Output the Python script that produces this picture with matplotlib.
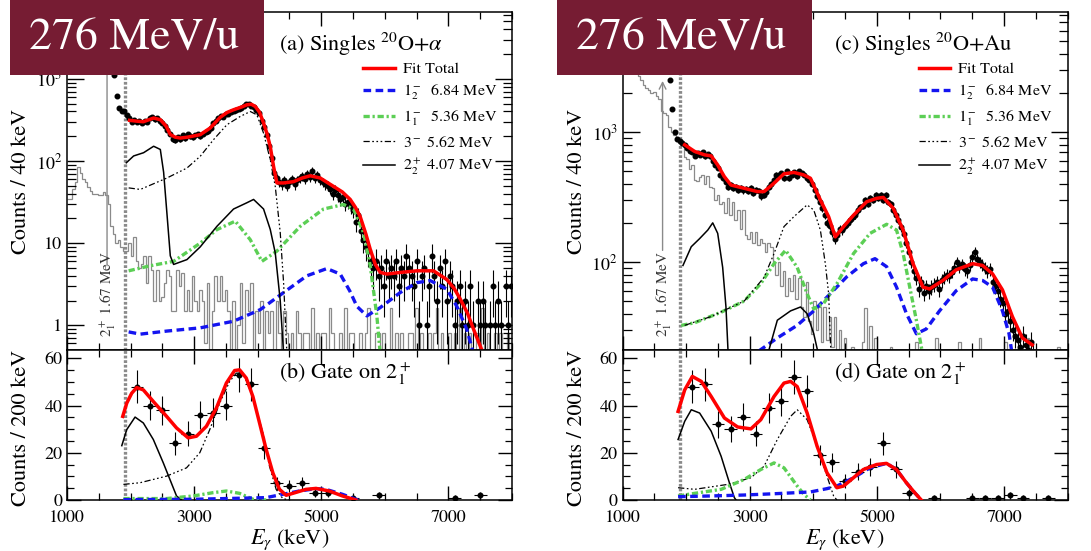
import numpy as np
import matplotlib
matplotlib.use("Agg")
import matplotlib.pyplot as plt
from matplotlib.patches import Rectangle
from matplotlib.ticker import FixedLocator, MultipleLocator, LogLocator, FuncFormatter, NullFormatter

plt.rcParams["font.family"] = ["STIXGeneral", "DejaVu Serif"]
plt.rcParams["mathtext.fontset"] = "stix"
plt.rcParams["lines.scale_dashes"] = False
plt.rcParams["axes.linewidth"] = 1.1

# ---------------- singles spectra, 40 keV bins ----------------
bin_w = 40
data_start = 1740

alpha_counts = [
    1100, 610, 445, 400, 410, 360, 330, 300, 315, 295, 305, 290, 310, 300, 330, 345,
    320, 335, 305, 290, 265, 240, 215, 185, 180, 195, 185, 205, 190, 210, 200, 195,
    205, 210, 200, 215, 225, 230, 250, 290, 310, 330, 350, 340, 370, 375, 390, 400,
    420, 430, 445, 470, 500, 490, 470, 455, 420, 380, 310, 260, 205, 150, 110, 72,
    62, 55, 52, 58, 50, 55, 60, 52, 58, 62, 65, 60, 70, 64, 75, 62, 68, 58, 55, 52,
    50, 46, 40, 44, 38, 34, 36, 30, 32, 28, 25, 18, 22, 14, 11, 9, 8, 6, 5, 6, 4, 5,
    3, 6, 4, 5, 4, 6, 3, 5, 4, 7, 5, 4, 3, 6, 1, 4, 5, 1, 3, 7, 4, 2, 5, 3, 6, 2, 4,
    3, 1, 2, 3, 1, 2, 1, 3, 1, 0, 2, 1, 2, 1, 0, 1, 3, 1, 2, 1, 0, 3, 1, 3,
]

au_counts = [
    2500, 1500, 1000, 880, 860, 820, 800, 760, 720, 700, 660, 690, 670, 700, 650, 680,
    650, 600, 560, 530, 470, 440, 410, 380, 390, 370, 380, 360, 370, 355, 365, 350,
    370, 340, 360, 350, 320, 330, 345, 380, 400, 430, 470, 470, 480, 440, 500, 440,
    470, 490, 460, 500, 480, 470, 440, 430, 400, 360, 320, 290, 260, 230, 200, 190,
    170, 150, 160, 180, 175, 190, 200, 210, 220, 230, 250, 265, 270, 300, 280, 310,
    300, 330, 310, 325, 300, 330, 290, 280, 250, 230, 210, 185, 165, 140, 120, 100,
    85, 75, 62, 70, 58, 65, 60, 64, 67, 70, 62, 72, 76, 80, 78, 84, 90, 100, 92, 96,
    88, 85, 95, 110, 120, 105, 100, 95, 90, 85, 88, 70, 65, 60, 52, 48, 40, 42, 35,
    30, 27, 25, 22, 27, 23, 21, 24, 20,
]

# gray random-coincidence spectra, 40 keV bins from 1000 keV
gray_start = 1000
alpha_gray = [
    34, 34, 45, 55, 85, 72, 60, 55, 48, 43, 40, 40, 39, 39, 42, 38, 30, 16, 13, 10,
    11, 9, 8, 8, 10, 7, 12, 6, 5, 5.5, 7, 3.3, 7, 4.7, 2, 4.7, 2, 2.2, 3.3, 4.7, 4,
    1.5, 1.5, 4.7, 3, 4.3, 1.5, 2.7, 1.5, 4, 2, 1.5, 2.7, 2, 0.6, 3.3, 0, 1.5, 4, 2,
    4, 2, 2.7, 1.5, 0, 2, 0, 1, 3.3, 0.6, 2.7, 1.5, 3.3, 0, 1.5, 0.8, 2, 0, 1.5, 0.8,
    1.5, 0, 2, 0.8, 0, 1.5, 0.8, 0, 0.8, 0, 1.5, 0.8,
    0, 0.8, 0.8, 0, 1.6, 0, 0.8, 0, 0.8, 0.8, 0, 1.6, 0.8, 0, 0, 0.8, 0, 1.6, 0, 0.8,
    0.8, 0, 0, 0.8, 0, 0.8, 1.6, 0, 0, 0.8, 0.8, 0, 0.8, 0, 0, 1.6, 0, 0.8, 0, 0.8,
    0, 0, 0.8, 0.8, 0, 1.6, 0, 0.8, 0, 0, 0.8, 0, 0.8, 1.6, 0, 0.8, 0, 0, 0.8, 0,
    0.8, 0, 1.6, 0, 0.8, 0, 0.8, 0, 0, 0.8, 0, 1.6, 0, 0.8, 0, 0, 0.8, 0, 0.8, 0, 0,
    0.8, 0,
]

au_gray = [
    6000, 5200, 4600, 4000, 3500, 3100, 2700, 2500, 2300, 2200, 2100, 2000, 2050,
    1900, 1800, 1450, 1400, 1350, 1100, 1000, 950, 920, 850, 800, 640, 620, 520, 560,
    430, 420, 450, 470, 400, 460, 380, 370, 300, 330, 280, 290, 240, 310, 230, 290,
    210, 250, 180, 250, 160, 150, 170, 140, 170, 135, 150, 140, 120, 140, 130, 100,
    80, 100, 65, 85, 55, 75, 60, 80, 52, 75, 45, 38, 70, 35, 28, 50, 30, 45, 24, 45,
    25, 38, 22, 38, 20, 30,
    10, 26, 10, 10, 22, 10, 10, 10, 24, 44, 10, 32, 10, 26, 10, 10, 10, 10, 10, 22,
    10, 10, 10, 10, 10, 10, 10, 10, 10, 24, 10, 10, 10, 10, 10, 10, 10, 26, 10, 10,
    10, 10, 10, 10, 10, 10, 24, 10, 10, 10, 10, 10, 10, 10, 26, 10, 10, 10, 10, 10,
    10, 10, 10, 10, 24, 10, 10, 10, 10, 10, 10, 10, 10, 26, 10, 10, 10, 10, 10, 10,
    10, 10, 10, 10, 10, 22, 10, 10,
]

# ---------------- fit components, singles ----------------
alpha_total_e = [1985, 2100, 2200, 2363, 2468, 2560, 2625, 2700, 2782, 2900, 3096, 3253,
                 3410, 3520, 3620, 3750, 3830, 3900, 3961, 4030, 4092, 4150, 4197, 4250,
                 4302, 4407, 4564, 4700, 4826, 4983, 5193, 5330, 5455, 5540, 5612, 5700,
                 5770, 5850, 5927, 6031, 6250, 6503, 6765, 6975, 7090, 7184, 7300, 7394, 7525]
alpha_total_v = [312, 305, 300, 333, 318, 265, 210, 195, 190, 195, 209, 252, 340, 390, 420,
                 455, 483, 490, 461, 390, 289, 210, 150, 85, 54, 54, 56, 62, 66, 62, 49, 42,
                 34, 27, 21, 13, 8.4, 5.5, 4.4, 4.2, 4.4, 4.6, 4.6, 3.6, 2.8, 2.1, 1.4, 0.9, 0.5]

alpha_b684_e = [1970, 2153, 2572, 3096, 3620, 4040, 4407, 4773, 5088, 5298, 5450, 5560, 5717,
                5927, 6241, 6503, 6713, 6975, 7132, 7289, 7394]
alpha_b684_v = [0.83, 0.78, 0.85, 0.93, 1.12, 1.55, 2.5, 4.0, 4.9, 4.2, 2.6, 1.7, 1.3, 1.64,
                2.5, 3.3, 3.5, 2.75, 1.7, 0.89, 0.45]

alpha_g536_e = [1970, 2310, 2677, 3096, 3358, 3647, 3883, 4066, 4302, 4669, 5036, 5350, 5507,
                5665, 5770, 5874, 5927]
alpha_g536_v = [4.6, 5.3, 6.0, 10, 14.6, 18.5, 11, 6, 8, 16, 26, 29.5, 26, 13.4, 5.3, 1.3, 0.45]

alpha_k562_e = [1970, 2153, 2572, 2887, 3096, 3306, 3515, 3725, 3883, 3987, 4092, 4197, 4276,
                4354, 4407, 4459]
alpha_k562_v = [47, 45, 62, 82, 114, 182, 276, 348, 400, 364, 218, 104, 49, 13.5, 3.3, 0.45]

alpha_k407_e = [1933, 2048, 2205, 2363, 2468, 2520, 2572, 2625, 2677, 2887, 3096, 3358, 3620,
                3830, 3935, 4092, 4197, 4276, 4354, 4407]
alpha_k407_v = [95, 115, 126, 151, 138, 73, 23, 7, 5.5, 6.3, 9, 16, 26, 31, 34, 26, 14.7, 7.6,
                2.0, 0.45]

au_total_e = [1977, 2133, 2289, 2393, 2497, 2601, 2706, 2914, 3122, 3226, 3383, 3539, 3695,
              3851, 3956, 4112, 4242, 4347, 4477, 4633, 4841, 4998, 5102, 5258, 5414, 5570,
              5726, 5830, 6039, 6247, 6507, 6664, 6820, 6976, 7132, 7289, 7445]
au_total_v = [798, 710, 668, 656, 558, 454, 391, 369, 348, 348, 404, 477, 489, 468, 441, 300,
              223, 156, 187, 229, 291, 309, 314, 259, 176, 97, 64, 62, 72, 87, 97, 94, 81, 61,
              38, 26, 23]

au_b684_e = [3000, 3148, 3435, 3747, 4008, 4268, 4529, 4789, 4971, 5154, 5310, 5466, 5622,
             5778, 5986, 6247, 6507, 6664, 6820, 6976, 7080, 7132]
au_b684_v = [18, 20.7, 26, 32.5, 42, 57, 77, 97, 106, 92, 64, 40, 28, 30.5, 42, 60, 74, 72,
             64, 42, 28, 19]

au_g536_e = [1925, 2133, 2549, 2914, 3174, 3383, 3565, 3747, 3903, 4008, 4164, 4372, 4633,
             4893, 5154, 5310, 5414, 5518, 5622, 5726]
au_g536_v = [32.5, 34, 41, 50, 68, 97, 123, 91, 57, 43.5, 48, 68, 116, 166, 195, 176, 116,
             64, 35.6, 19]

au_k562_e = [1977, 2393, 2914, 3226, 3383, 3539, 3695, 3903, 4008, 4112, 4190, 4242, 4279]
au_k562_v = [32.5, 38, 50, 76, 116, 187, 223, 275, 251, 176, 97, 57, 19]

au_k407_e = [1951, 2081, 2211, 2341, 2419, 2497, 2575, 2627, 2663,
             3278, 3435, 3643, 3799, 3903, 4008, 4086]
au_k407_v = [94, 131, 151, 176, 200, 166, 91, 45, 19,
             19, 35.6, 42, 45, 40, 28, 19]

# ---------------- gamma-gamma gated spectra, 200 keV bins ----------------
gate_half = 100
alpha_gate_e = [2100, 2300, 2500, 2700, 2900, 3100, 3300, 3500, 3700, 3900, 4100, 4300,
                4500, 4700, 4900, 5100, 5500, 5900, 7100, 7500]
alpha_gate_n = [48, 40, 38, 24, 28, 36, 37, 40, 53, 49, 22, 7, 6, 7, 3, 3, 1, 2, 1, 2]

au_gate_e = [2100, 2300, 2500, 2700, 2900, 3100, 3300, 3500, 3700, 3900, 4100, 4300, 4500,
             4700, 4900, 5100, 5300, 5500, 5900, 6500, 6700, 6900, 7100, 7300, 7700]
au_gate_n = [48, 49, 32, 30, 35, 28, 39, 42, 52, 46, 19, 16, 8, 12, 14, 24, 13, 3, 1, 1, 1,
             1, 2, 1, 1]

ga_total_e = [1877, 1940, 2018, 2097, 2201, 2358, 2567, 2723, 2906, 3037, 3193, 3350, 3507,
              3637, 3715, 3820, 3924, 4029, 4133, 4238, 4342, 4447, 4551, 4760, 4917, 5125,
              5334, 5543]
ga_total_v = [35.4, 41, 45.2, 47.6, 46.6, 41.7, 35.4, 30.5, 26.3, 27, 31.2, 38.9, 49.5, 54.8,
              55.1, 51.6, 43.8, 32.6, 21.4, 11.5, 4.5, 2.0, 2.8, 4.5, 4.9, 3.8, 1.7, 0]
ga_k407_e = [1862, 1940, 2071, 2201, 2358, 2515, 2619, 2723, 2802]
ga_k407_v = [23, 29.8, 35.1, 32.6, 25.6, 15.7, 8.7, 1.7, 0]
ga_k562_e = [1888, 2149, 2567, 2880, 3089, 3246, 3402, 3559, 3663, 3768, 3924, 4081, 4185,
             4290, 4394, 4500]
ga_k562_v = [6.6, 7.3, 10.1, 13.6, 20, 29.8, 41, 50.2, 53.7, 53.7, 43.8, 28.4, 14.3, 4.5,
             0.6, 0]
ga_g536_e = [1888, 2567, 2985, 3298, 3507, 3715, 3924, 4133]
ga_g536_v = [0.6, 0.6, 1.7, 3.1, 3.8, 2.8, 0.3, 0]
ga_b684_e = [1888, 3000, 4133, 4394, 4655, 4917, 5073, 5334, 5543, 5595]
ga_b684_v = [0.15, 0.3, 1, 2.4, 3.8, 4.8, 4.5, 2.4, 0.3, 0]

gu_total_e = [1874, 1978, 2098, 2239, 2395, 2603, 2811, 3019, 3175, 3383, 3540, 3644, 3748,
              3904, 4060, 4216, 4372, 4476, 4632, 4788, 4996, 5152, 5309, 5465, 5595, 5699]
gu_total_v = [37.5, 46.6, 52.3, 50.2, 43.8, 34.7, 30.9, 30.1, 34, 43.8, 49.5, 50.2, 48, 36.8,
              22.8, 11.5, 5.2, 5.9, 9.4, 12.9, 15, 15.5, 12.9, 7.3, 3.1, 0]
gu_k407_e = [1874, 1978, 2082, 2213, 2395, 2551, 2681, 2759, 2785]
gu_k407_v = [25.6, 33.3, 38.2, 36.8, 29.1, 18.5, 7.3, 1, 0]
gu_k562_e = [1874, 2134, 2655, 3019, 3227, 3435, 3644, 3748, 3904, 4060, 4216, 4320, 4372]
gu_k562_v = [5.2, 4.5, 6.6, 9.4, 14.3, 25.6, 35.4, 38.2, 34, 22.8, 10.1, 1.7, 0]
gu_g536_e = [1874, 2134, 2551, 2915, 3175, 3383, 3540, 3748, 3852, 3956]
gu_g536_v = [1.7, 2.8, 4.5, 8.7, 12.9, 15.7, 13.6, 5.9, 2.4, 0]
gu_b684_e = [1874, 2395, 2915, 3435, 3956, 4216, 4372, 4632, 4892, 5152, 5309, 5465, 5595, 5699]
gu_b684_v = [1.4, 1.7, 2.1, 2.7, 3.4, 4.8, 5.9, 9.4, 13.6, 15.5, 12.9, 7.3, 3.1, 0]

gate_line_e = 1905      # Doppler-shifted 2+_1 position
arrow_e = 1630

legend_labels = ["Fit Total", r"$1^-_2$  6.84 MeV", r"$1^-_1$  5.36 MeV",
                 r"$3^-$ 5.62 MeV", r"$2^+_2$ 4.07 MeV"]

# ---------------- styles ----------------
RED = "#ff0000"
BLUE = "#1414f0"
GREEN = "#5ccf55"
GRAY = "#8a8a8a"
MAROON = "#761c33"
sty_total = dict(color=RED, lw=2.5, ls="-")
sty_b684 = dict(color=BLUE, lw=2.4, ls=(0, (5.5, 3.2)))
sty_g536 = dict(color=GREEN, lw=2.4, ls=(0, (4.5, 2.0, 1.6, 2.0)))
sty_k562 = dict(color="black", lw=0.9, ls=(0, (4.5, 1.8, 1.2, 1.8, 1.2, 1.8, 1.2, 1.8)))
sty_k407 = dict(color="black", lw=1.1, ls="-")


def log_label(v, pos):
    if v < 5:
        return "1"
    if v < 50:
        return "10"
    return r"$10^{%d}$" % round(np.log10(v))


def style_axes(ax, lower):
    ax.set_xlim(1000, 8000)
    ax.xaxis.set_major_locator(FixedLocator([1000, 3000, 5000, 7000]))
    ax.xaxis.set_minor_locator(MultipleLocator(500))
    ax.tick_params(which="both", direction="in", top=True, right=True, labelsize=13)
    ax.tick_params(which="major", length=10, width=1.0)
    ax.tick_params(which="minor", length=5, width=0.9)
    ax.tick_params(axis="x", pad=7)
    if lower:
        ax.set_ylim(0, 63.5)
        ax.yaxis.set_major_locator(MultipleLocator(20))
        ax.yaxis.set_minor_locator(MultipleLocator(5))
        ax.set_xlabel(r"$E_\gamma$ (keV)", fontsize=16, labelpad=1)
        ax.set_ylabel("Counts / 200 keV", fontsize=16)
    else:
        ax.set_yscale("log")
        ax.yaxis.set_major_locator(LogLocator(base=10, numticks=10))
        ax.yaxis.set_minor_locator(LogLocator(base=10, subs=np.arange(2, 10), numticks=50))
        ax.yaxis.set_major_formatter(FuncFormatter(log_label))
        ax.yaxis.set_minor_formatter(NullFormatter())
        ax.tick_params(axis="y", which="major", length=12)
        ax.tick_params(axis="y", which="minor", length=6.5)
        ax.tick_params(axis="x", labelbottom=False)
        ax.set_ylabel("Counts / 40 keV", fontsize=16)


def draw_singles(ax, counts, gray, comps, ylim, title, text_y):
    centers = data_start + bin_w * np.arange(len(counts))
    n = np.asarray(counts, dtype=float)
    keep = n > 0
    gvals = np.asarray(gray, dtype=float)
    edges = gray_start + bin_w * np.arange(len(gvals) + 1)
    ax.stairs(np.where(gvals > 0, gvals, 1e-3), edges, color=GRAY, lw=0.9, baseline=None,
              zorder=1)
    ax.axvline(gate_line_e, color=GRAY, lw=2.4, ls=(0, (2.0, 1.3)), zorder=2)
    ax.errorbar(centers[keep], n[keep], yerr=np.sqrt(n[keep]), xerr=bin_w / 2, fmt="o",
                ms=3.3, color="black", elinewidth=0.8, capsize=0, zorder=3)
    handles = []
    for (e, v), sty in zip(comps, [sty_total, sty_b684, sty_g536, sty_k562, sty_k407]):
        h, = ax.plot(e, v, zorder=4 if sty is sty_total else 3.5, **sty)
        handles.append(h)
    ax.set_yscale("log")
    ax.set_ylim(*ylim)
    style_axes(ax, lower=False)
    ax.text(0.476, 0.905, title, transform=ax.transAxes, fontsize=16, va="center", ha="left")
    ax.annotate("", xy=(arrow_e, 2600), xytext=(arrow_e, text_y * 2.05),
                arrowprops=dict(arrowstyle="->", color=GRAY, lw=1.0, mutation_scale=12))
    ax.text(arrow_e + 20, text_y, r"$2^+_1$ 1.67 MeV", rotation=90, fontsize=11,
            ha="center", va="center", color="#333333")
    ax.legend(handles, legend_labels, loc="upper left", bbox_to_anchor=(0.64, 0.885),
              frameon=False, fontsize=11.5, handlelength=2.0, handletextpad=0.5,
              labelspacing=0.42, borderpad=0.2)


def draw_gate(ax, e_pts, n_pts, comps, title):
    n = np.asarray(n_pts, dtype=float)
    ax.axvline(gate_line_e, color=GRAY, lw=2.4, ls=(0, (2.0, 1.3)), zorder=2)
    ax.errorbar(e_pts, n, yerr=np.sqrt(n), xerr=gate_half, fmt="o", ms=3.3, color="black",
                elinewidth=0.8, capsize=0, zorder=3)
    for (e, v), sty in zip(comps, [sty_k407, sty_k562, sty_g536, sty_b684, sty_total]):
        ax.plot(e, v, zorder=4 if sty is sty_total else 3.5, **sty)
    style_axes(ax, lower=True)
    ax.text(0.476, 0.84, title, transform=ax.transAxes, fontsize=16, va="center", ha="left")


fig = plt.figure(figsize=(10.91, 5.51), dpi=100)
ax_a = fig.add_axes([0.0614, 0.3648, 0.4079, 0.6134])
ax_b = fig.add_axes([0.0614, 0.0926, 0.4079, 0.2722])
ax_c = fig.add_axes([0.5706, 0.3648, 0.4079, 0.6134])
ax_d = fig.add_axes([0.5706, 0.0926, 0.4079, 0.2722])

draw_singles(ax_a, alpha_counts, alpha_gray,
             [(alpha_total_e, alpha_total_v), (alpha_b684_e, alpha_b684_v),
              (alpha_g536_e, alpha_g536_v), (alpha_k562_e, alpha_k562_v),
              (alpha_k407_e, alpha_k407_v)],
             (0.5, 6500), r"(a) Singles $^{20}$O+$\alpha$", 2.4)
draw_singles(ax_c, au_counts, au_gray,
             [(au_total_e, au_total_v), (au_b684_e, au_b684_v),
              (au_g536_e, au_g536_v), (au_k562_e, au_k562_v),
              (au_k407_e, au_k407_v)],
             (21, 8400), r"(c) Singles $^{20}$O+Au", 57)

draw_gate(ax_b, alpha_gate_e, alpha_gate_n,
          [(ga_k407_e, ga_k407_v), (ga_k562_e, ga_k562_v), (ga_g536_e, ga_g536_v),
           (ga_b684_e, ga_b684_v), (ga_total_e, ga_total_v)],
          r"(b) Gate on $2^+_1$")
draw_gate(ax_d, au_gate_e, au_gate_n,
          [(gu_k407_e, gu_k407_v), (gu_k562_e, gu_k562_v), (gu_g536_e, gu_g536_v),
           (gu_b684_e, gu_b684_v), (gu_total_e, gu_total_v)],
          r"(d) Gate on $2^+_1$")

for ax in (ax_a, ax_c):
    ax.yaxis.set_label_coords(-0.08, 0.5)
for ax in (ax_b, ax_d):
    ax.yaxis.set_label_coords(-0.08, 0.48)

# beam energy tags
for x0, x1 in [(10, 264), (557, 812)]:
    fig.add_artist(Rectangle((x0 / 1091, 1 - 75 / 551), (x1 - x0) / 1091, 75 / 551,
                             transform=fig.transFigure, facecolor=MAROON, edgecolor="none",
                             zorder=5))
    fig.text((x0 + x1) / 2 / 1091 - 0.003, 1 - 38 / 551, "276 MeV/u", color="white",
             fontsize=33, ha="center", va="center", zorder=6)

fig.savefig("out.png", dpi=100)
